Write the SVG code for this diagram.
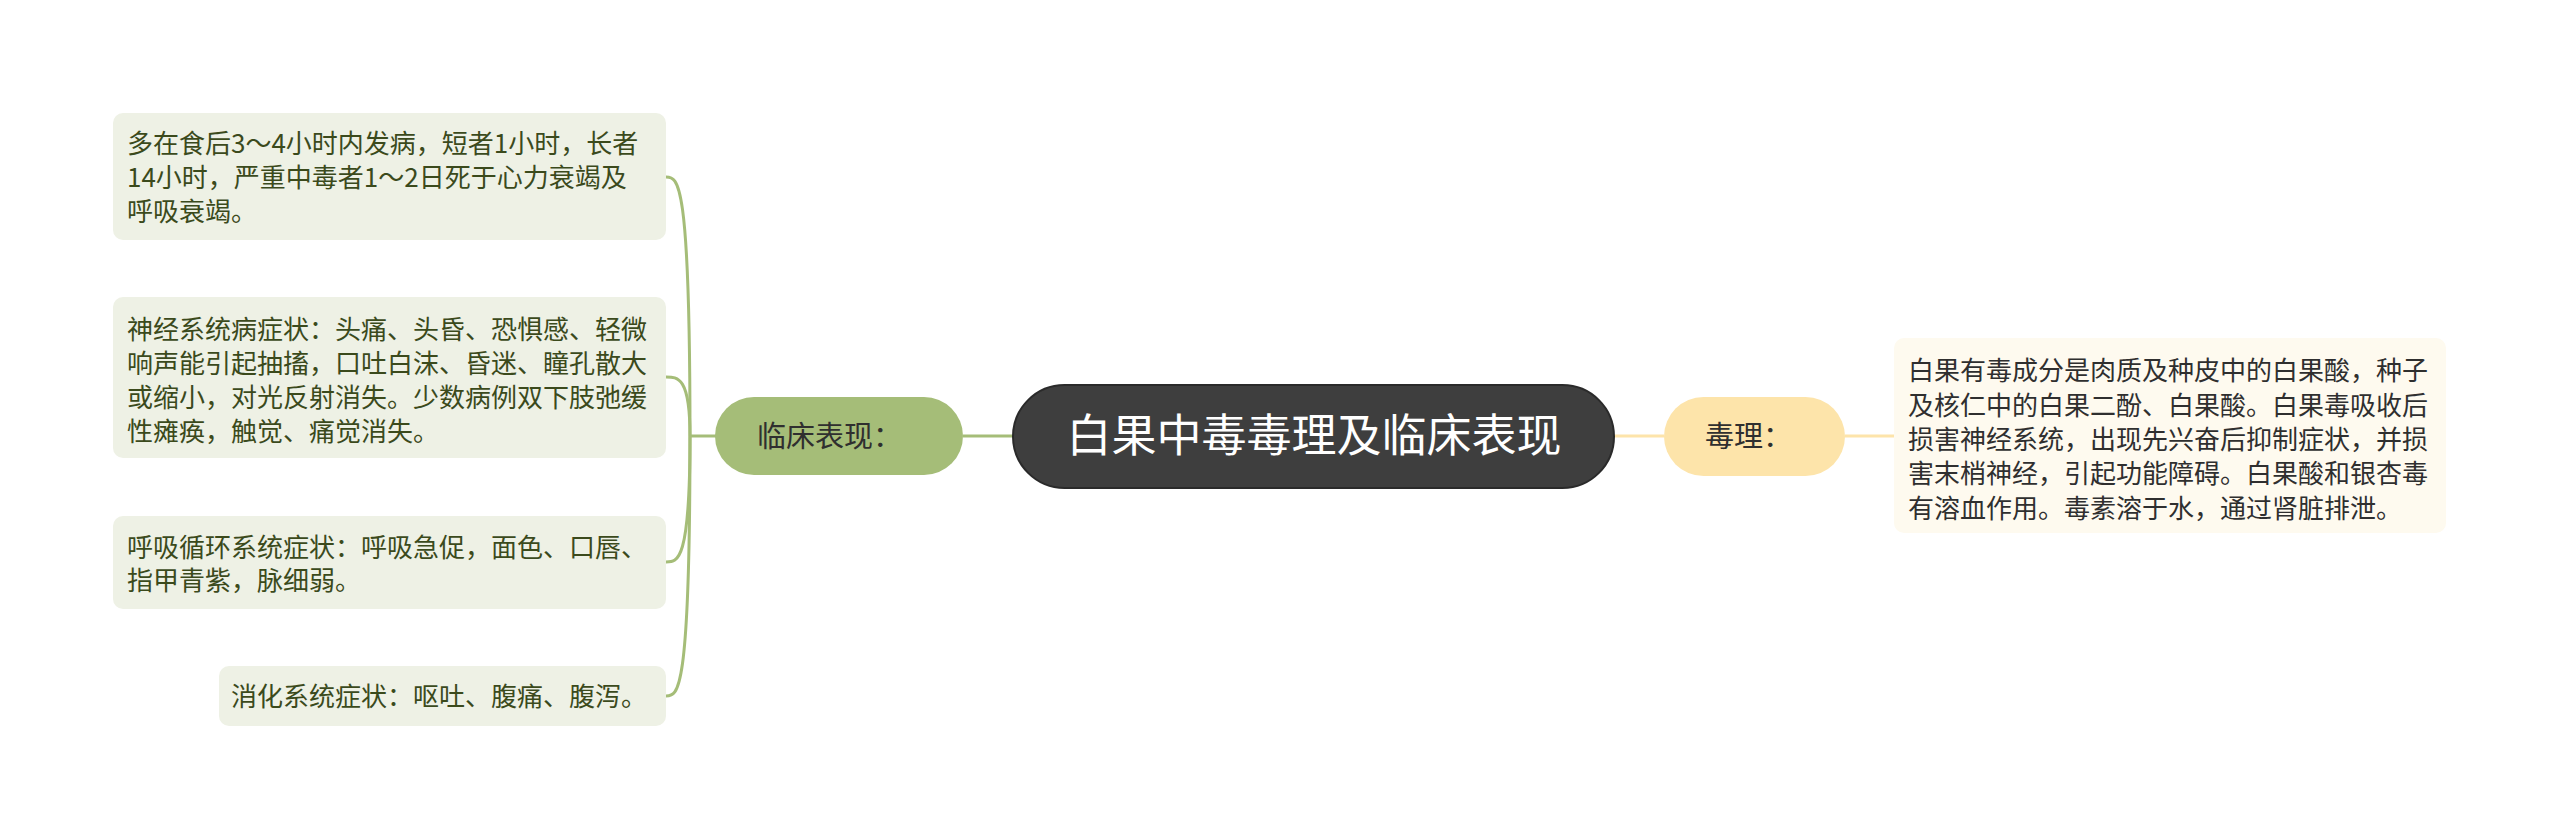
<svg xmlns="http://www.w3.org/2000/svg" width="2560" height="839" viewBox="0 0 2560 839">
<style>
text{font-family:"Noto Sans CJK SC","Noto Sans",sans-serif}
.leaf{fill:#eef1e5}
.lt{font-size:26px;fill:#3b4a1c}
.rt{font-size:26px;fill:#2f2f2f}
.gl{fill:none;stroke:#a5bd78;stroke-width:3}
.yl{fill:none;stroke:#fde4aa;stroke-width:3}
</style>
<rect width="2560" height="839" fill="#ffffff"/>
<g id="connectors">
<path class="gl" d="M963 436 L1013 436"/>
<path class="gl" d="M716 436 L690 436"/>
<path class="gl" d="M690 436 C690 177,678 177,666 177"/>
<path class="gl" d="M690 436 C690 377,678 377,666 377"/>
<path class="gl" d="M690 436 C690 562,678 562,666 562"/>
<path class="gl" d="M690 436 C690 696,678 696,666 696"/>
<path class="yl" d="M1614 436 L1664 436"/>
<path class="yl" d="M1845 436 L1894 436"/>
</g>
<g id="root">
<rect x="1013" y="385" width="601" height="103" rx="51.5" fill="#3e3e3e" stroke="#2a2a2a" stroke-width="2"/>
<text x="1314" y="452" font-size="45" fill="#ffffff" text-anchor="middle">白果中毒毒理及临床表现</text>
</g>
<g id="clinical">
<rect x="715" y="397" width="248" height="78" rx="39" fill="#a5bd78"/>
<text x="757" y="447" font-size="29" fill="#2f2f2f">临床表现：</text>
</g>
<g id="toxicology">
<rect x="1664" y="397" width="181" height="79" rx="39.5" fill="#fde4aa"/>
<text x="1705" y="447" font-size="29" fill="#2f2f2f">毒理：</text>
</g>
<g id="leaf1">
<rect class="leaf" x="113" y="113" width="553" height="127" rx="10"/>
<text class="lt" x="127" y="153">多在食后3～4小时内发病，短者1小时，长者</text>
<text class="lt" x="127" y="187">14小时，严重中毒者1～2日死于心力衰竭及</text>
<text class="lt" x="127" y="221">呼吸衰竭。</text>
</g>
<g id="leaf2">
<rect class="leaf" x="113" y="297" width="553" height="161" rx="10"/>
<text class="lt" x="127" y="338.5">神经系统病症状：头痛、头昏、恐惧感、轻微</text>
<text class="lt" x="127" y="372.5">响声能引起抽搐，口吐白沫、昏迷、瞳孔散大</text>
<text class="lt" x="127" y="406.5">或缩小，对光反射消失。少数病例双下肢弛缓</text>
<text class="lt" x="127" y="440.5">性瘫痪，触觉、痛觉消失。</text>
</g>
<g id="leaf3">
<rect class="leaf" x="113" y="516" width="553" height="93" rx="10"/>
<text class="lt" x="127" y="556.5">呼吸循环系统症状：呼吸急促，面色、口唇、</text>
<text class="lt" x="127" y="590">指甲青紫，脉细弱。</text>
</g>
<g id="leaf4">
<rect class="leaf" x="219" y="666" width="447" height="60" rx="10"/>
<text class="lt" x="231" y="706">消化系统症状：呕吐、腹痛、腹泻。</text>
</g>
<g id="tox-detail">
<rect x="1894" y="338" width="552" height="195" rx="10" fill="#fefaef"/>
<text class="rt" x="1908" y="380">白果有毒成分是肉质及种皮中的白果酸，种子</text>
<text class="rt" x="1908" y="414.5">及核仁中的白果二酚、白果酸。白果毒吸收后</text>
<text class="rt" x="1908" y="449">损害神经系统，出现先兴奋后抑制症状，并损</text>
<text class="rt" x="1908" y="483">害末梢神经，引起功能障碍。白果酸和银杏毒</text>
<text class="rt" x="1908" y="517.5">有溶血作用。毒素溶于水，通过肾脏排泄。</text>
</g>
</svg>
